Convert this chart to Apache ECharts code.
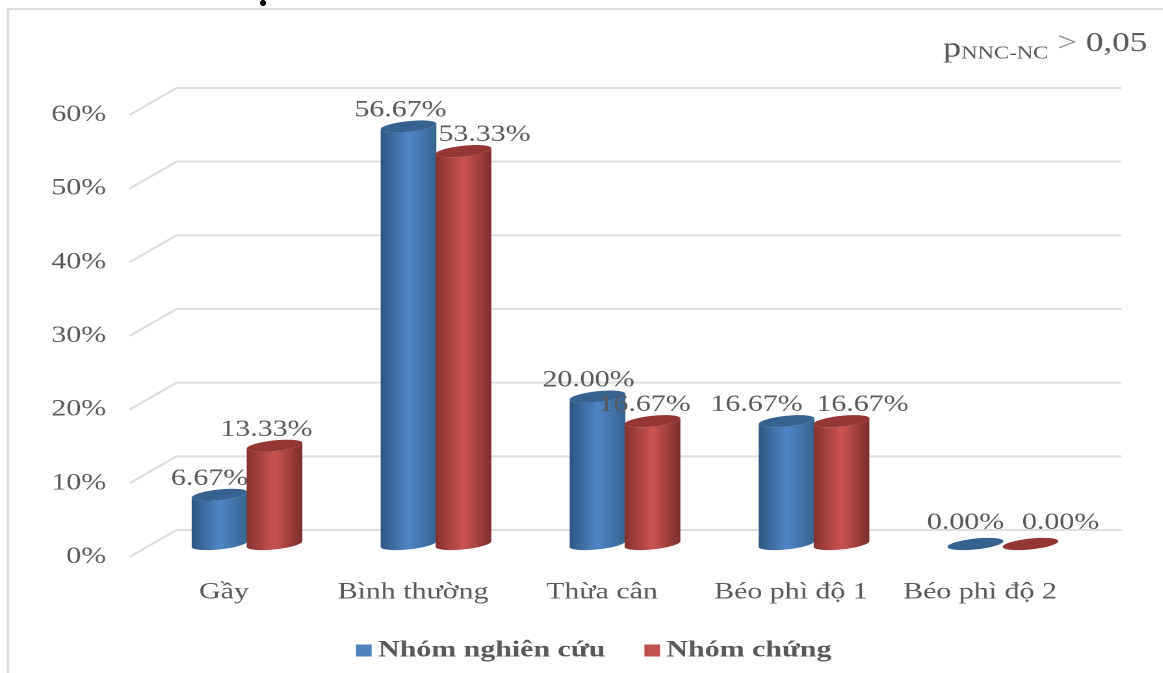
<!DOCTYPE html>
<html>
<head>
<meta charset="utf-8">
<style>
  html, body { margin: 0; padding: 0; background: #fff; overflow: hidden; }
  /* The chart is laid out in narrow units and widened as a whole, which gives the type its wide set. */
  #chart { width: 894.6px; height: 673px; transform: scaleX(1.3); transform-origin: 0 0; }
</style>
<script src="https://cdn.jsdelivr.net/npm/echarts@6/dist/echarts.min.js"></script>
</head>
<body>
<div id="chart"></div>
<script>
const categories = ['Gầy', 'Bình thường', 'Thừa cân', 'Béo phì độ 1', 'Béo phì độ 2'];
const studyGroup = [6.67, 56.67, 20.00, 16.67, 0.00];
const controlGroup = [13.33, 53.33, 16.67, 16.67, 0.00];
const gridValues = [0, 10, 20, 30, 40, 50, 60];
const studyName = 'Nhóm nghiên cứu';
const controlName = 'Nhóm chứng';

// Label shifts per category, in screen pixels along x.
const studyLabelShift = [-10, -8, -9, -30, -10];
const controlLabelShift = [-8, 21, -8, 21, 30];

const WIDEN = 1.3;
const BAR_DEPTH_X = 23, BAR_DEPTH_Y = 13;
const WALL_DEPTH_X = 47, WALL_DEPTH_Y = 27;
const RX = 28, RY = 5.4, TILT = -6 * Math.PI / 180;
const TEXT = '#595959';
const SERIF = '"Liberation Serif", "Times New Roman", serif';

// Points on a tilted ellipse, worked out in screen pixels and returned in chart units.
function arc(cx, cy, from, to, steps) {
  const pts = [];
  for (let i = 0; i <= steps; i++) {
    const a = from + (to - from) * i / steps;
    const ex = RX * Math.cos(a), ey = RY * Math.sin(a);
    pts.push([
      (cx + ex * Math.cos(TILT) - ey * Math.sin(TILT)) / WIDEN,
      cy + ex * Math.sin(TILT) + ey * Math.cos(TILT)
    ]);
  }
  return pts;
}

function cylinder(side, shifts, palette) {
  return function (params, api) {
    const idx = api.value(0), val = api.value(1);
    const top = api.coord([idx, val]);
    const base = api.coord([idx, 0]);
    const cx = top[0] * WIDEN + BAR_DEPTH_X + side * 27.5;
    const topY = top[1] - BAR_DEPTH_Y;
    const baseY = base[1] - BAR_DEPTH_Y;
    const lid = arc(cx, topY, 0, Math.PI * 2, 48);
    const children = [];
    if (val > 0) {
      const under = arc(cx, baseY, 0, Math.PI, 32);
      const upper = arc(cx, topY, Math.PI, 0, 32);
      children.push({
        type: 'polygon',
        shape: { points: under.concat(upper) },
        style: {
          fill: new echarts.graphic.LinearGradient(0, 0, 1, 0, [
            { offset: 0, color: palette.edgeL },
            { offset: 0.5, color: palette.mid },
            { offset: 1, color: palette.edgeR }
          ])
        }
      });
    }
    children.push({ type: 'polygon', shape: { points: lid }, style: { fill: palette.lid } });
    children.push({
      type: 'text',
      z2: 100,
      style: {
        text: val.toFixed(2) + '%',
        x: (cx + shifts[idx]) / WIDEN,
        y: topY - (val > 0 ? 16 : 21),
        align: 'center',
        verticalAlign: 'middle',
        fill: TEXT,
        font: '23px ' + SERIF
      }
    });
    return { type: 'group', children };
  };
}

// Back-wall gridline: a short run in from the axis, then across the wall.
function wallLine(params, api) {
  const box = params.coordSys;
  const y = api.coord([0, api.value(1)])[1];
  return {
    type: 'polyline',
    shape: {
      points: [
        [box.x, y],
        [box.x + WALL_DEPTH_X / WIDEN, y - WALL_DEPTH_Y],
        [box.x + box.width + WALL_DEPTH_X / WIDEN, y - WALL_DEPTH_Y]
      ]
    },
    style: { stroke: '#dedede', lineWidth: 2, fill: 'none' }
  };
}

const bluePalette = { edgeL: '#2f5682', mid: '#5086c6', edgeR: '#36648f', lid: '#35628f' };
const redPalette = { edgeL: '#84322f', mid: '#cb5452', edgeR: '#7c2e2c', lid: '#943634' };

const plainRich = (size, color, align) => ({
  fontSize: size, fontFamily: SERIF, fontWeight: 'normal', color, lineHeight: 38, verticalAlign: align
});

const chart = echarts.init(document.getElementById('chart'), null, { devicePixelRatio: 2, renderer: 'canvas' });
chart.setOption({
  animation: false,
  backgroundColor: '#fff',
  textStyle: { fontFamily: SERIF },
  title: {
    left: 943 / WIDEN,
    top: 25,
    padding: 0,
    text: '{p|p}{s|NNC-NC}{g| >}{v| 0,05}',
    textStyle: {
      fontWeight: 'normal',
      rich: {
        p: plainRich(28, TEXT, 'bottom'),
        s: plainRich(17.5, TEXT, 'bottom'),
        g: plainRich(27, '#8c8c8c', 'middle'),
        v: plainRich(27, TEXT, 'middle')
      }
    }
  },
  legend: {
    left: 356 / WIDEN,
    top: 639,
    padding: 0,
    itemGap: 30,
    itemWidth: 12,
    itemHeight: 12,
    icon: 'rect',
    data: [studyName, controlName],
    textStyle: { fontFamily: SERIF, fontSize: 23, fontWeight: 'bold', color: TEXT }
  },
  grid: { left: 129.5 / WIDEN, width: 945 / WIDEN, top: 115, height: 442 },
  xAxis: {
    type: 'category',
    data: categories,
    axisLine: { show: false },
    axisTick: { show: false },
    axisLabel: { interval: 0, hideOverlap: false, fontFamily: SERIF, fontSize: 23, color: TEXT, margin: 24 }
  },
  yAxis: {
    type: 'value',
    min: 0,
    max: 60,
    interval: 10,
    axisLine: { show: false },
    axisTick: { show: false },
    splitLine: { show: false },
    axisLabel: { fontFamily: SERIF, fontSize: 23, color: TEXT, margin: 18, padding: [3, 0, 0, 0], formatter: '{value}%' }
  },
  series: [
    {
      type: 'custom',
      silent: true,
      z: 1,
      renderItem: wallLine,
      encode: { x: 0, y: 1 },
      data: gridValues.map(v => [0, v])
    },
    {
      name: studyName,
      type: 'custom',
      z: 2,
      itemStyle: { color: '#4f81bd' },
      renderItem: cylinder(-1, studyLabelShift, bluePalette),
      encode: { x: 0, y: 1 },
      data: studyGroup.map((v, i) => [i, v])
    },
    {
      name: controlName,
      type: 'custom',
      z: 2,
      itemStyle: { color: '#c0504d' },
      renderItem: cylinder(1, controlLabelShift, redPalette),
      encode: { x: 0, y: 1 },
      data: controlGroup.map((v, i) => [i, v])
    }
  ],
  graphic: [
    {
      type: 'polyline',
      silent: true,
      shape: { points: [[8 / WIDEN, 673], [8 / WIDEN, 9], [1163 / WIDEN, 9]] },
      style: { stroke: '#dedede', lineWidth: 2, fill: 'none' }
    },
    {
      type: 'ellipse',
      silent: true,
      shape: { cx: 263 / WIDEN, cy: 3, rx: 3 / WIDEN, ry: 3 },
      style: { fill: '#000' }
    }
  ]
});
</script>
</body>
</html>
